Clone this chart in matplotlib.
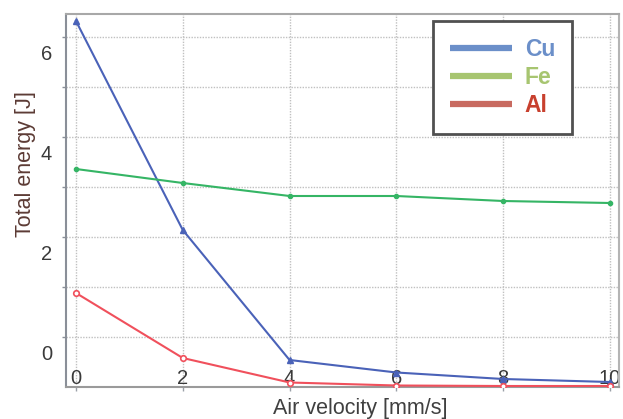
import numpy as np
import matplotlib
matplotlib.use("Agg")
import matplotlib.pyplot as plt
from matplotlib.lines import Line2D

plt.rcParams['font.family'] = ['Liberation Sans', 'DejaVu Sans']

# data (values in the units of the printed y labels)
air_velocity = [0, 2, 4, 6, 8, 10]
cu_energy = [6.64, 2.46, -0.14, -0.39, -0.52, -0.58]
fe_energy = [3.68, 3.40, 3.14, 3.14, 3.04, 3.00]
al_energy = [1.20, -0.10, -0.59, -0.65, -0.66, -0.66]
names = ['Cu', 'Fe', 'Al']
y_labels = [0, 2, 4, 6]
x_labels = [0, 2, 4, 6, 8, 10]

fig = plt.figure(figsize=(6.23, 4.19), dpi=100)
ax = fig.add_axes([66 / 623, 32 / 419, 553 / 623, 373 / 419])

ax.plot(air_velocity, cu_energy, color='#4a62b8', lw=1.5, marker='^', ms=4, zorder=3)
ax.plot(air_velocity, fe_energy, color='#35b565', lw=1.5, marker='o', ms=3, zorder=3)
ax.plot(air_velocity, al_energy, color='#f0505c', lw=1.5, marker='o', ms=4,
        mfc='white', mew=1.2, zorder=3)

ax.set_xlim(-0.187, 10.17)
ax.set_ylim(-0.68, 6.78)

# labels and grid do not line up in the original, so grid uses minor ticks
ax.set_yticks(y_labels)
ax.set_yticks(np.arange(0.32, 6.5, 1.0), minor=True)
ax.set_xticks(x_labels)
ax.grid(which='minor', axis='y', color='#c0c0c0', ls=(0, (1, 1)), lw=1)
ax.grid(which='major', axis='x', color='#c0c0c0', ls=(0, (1, 1)), lw=1)

ax.tick_params(axis='y', which='major', length=0, pad=10, labelsize=14.5, labelcolor='#3a3a3a')
ax.tick_params(axis='y', which='minor', length=3, width=1, color='#8a8f98', direction='out')
ax.tick_params(axis='x', which='major', length=3, width=1, color='#9aa0a8', direction='out',
               pad=-16, labelsize=14.5, labelcolor='#3a3a3a')

for side, c in [('left', '#8a8f98'), ('top', '#a8a8a8'), ('right', '#b4b4b4'), ('bottom', '#9a9a9a')]:
    ax.spines[side].set_color(c)
    ax.spines[side].set_linewidth(1.5)

ax.set_xlabel('Air velocity [mm/s]', fontsize=15.5, color='#404040')
ax.xaxis.set_label_coords(0.533, -0.03)
ax.set_ylabel('Total energy [J]', fontsize=15.5, color='#5c3b35')
ax.yaxis.set_label_coords(-0.054, 0.598)

handles = [Line2D([], [], color=c, lw=4.5, solid_capstyle='butt')
           for c in ['#6b8fc9', '#a7c570', '#c86a60']]
leg = ax.legend(handles, names, loc='upper left', bbox_to_anchor=(433 / 623, 1 - 21 / 419),
                bbox_transform=fig.transFigure, borderaxespad=0, fancybox=False,
                framealpha=1, handlelength=2.7, handletextpad=0.55, labelspacing=0.22,
                borderpad=0.75, prop={'weight': 'bold', 'size': 16.5})
leg.get_frame().set_edgecolor('#505050')
leg.get_frame().set_linewidth(2)
for txt, c in zip(leg.get_texts(), ['#6b8fc9', '#a7c570', '#c8402e']):
    txt.set_color(c)

fig.savefig('out.png', dpi=100)
